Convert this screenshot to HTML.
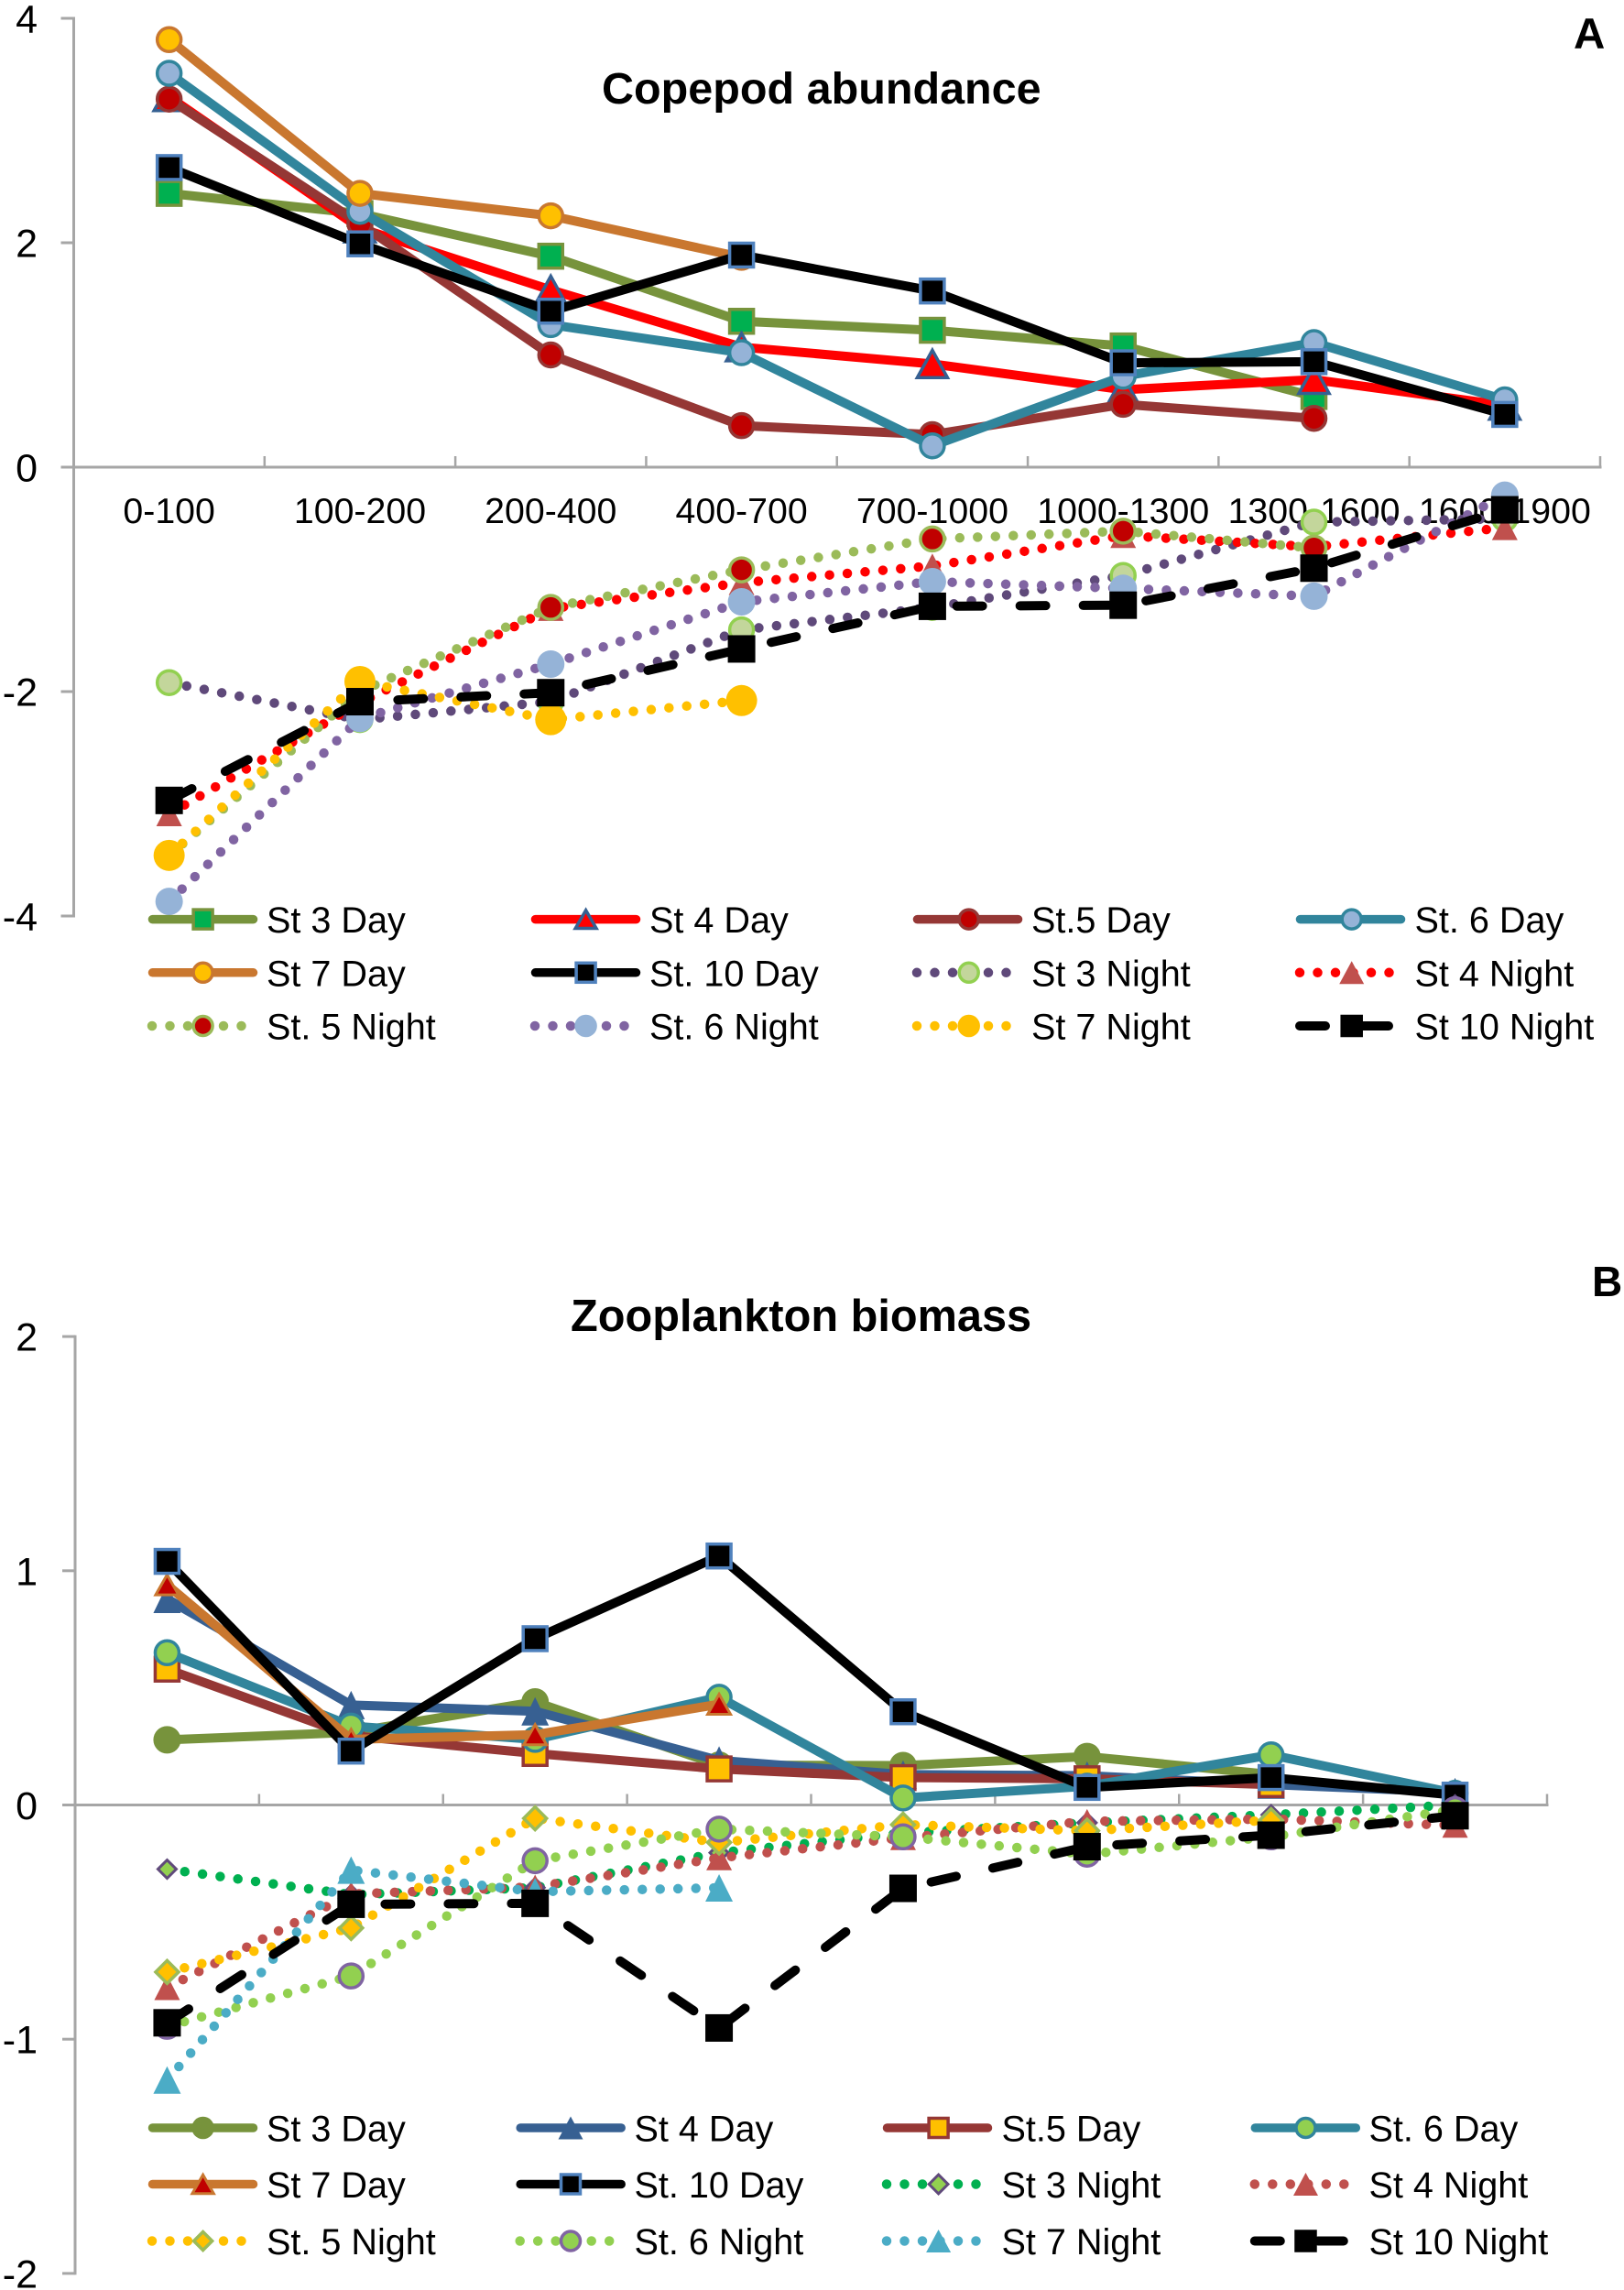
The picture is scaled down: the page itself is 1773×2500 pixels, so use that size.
<!DOCTYPE html>
<html lang="en">
<head>
<meta charset="utf-8">
<title>Copepod abundance and zooplankton biomass</title>
<style>
html,body{margin:0;padding:0;background:#fff;}
svg{display:block;}
text{font-family:"Liberation Sans",Arial,sans-serif;fill:#000;}
</style>
</head>
<body>
<svg id="figure" xmlns="http://www.w3.org/2000/svg" width="1773" height="2500" viewBox="0 0 1773 2500">
  <rect x="0" y="0" width="1773" height="2500" fill="#ffffff"/>
  <g id="panelA"></g>
  <g id="panelB"></g>
  <text x="657" y="113" font-size="48.5" font-weight="700">Copepod abundance</text>
  <text x="1718" y="53" font-size="47.5" font-weight="700">A</text>
  <text x="623" y="1453" font-size="48.7" font-weight="700">Zooplankton biomass</text>
  <text x="1738" y="1415" font-size="46" font-weight="700">B</text>
</svg>
<script>
// ---------- Panel A data ----------
const aCategories = ["0-100","100-200","200-400","400-700","700-1000","1000-1300","1300-1600","1600-1900"];
const aYTicks = [4,2,0,-2,-4];
const aSt3Day   = [2.44,2.26,1.88,1.30,1.22,1.08,0.63,null];
const aSt4Day   = [3.30,2.13,1.58,1.07,0.92,0.69,0.78,0.55];
const aSt5Day   = [3.28,2.17,1.00,0.37,0.29,0.56,0.435,null];
const aSt6Day   = [3.51,2.28,1.27,1.02,0.19,0.81,1.11,0.60];
const aSt7Day   = [3.81,2.44,2.24,1.87,null,null,null,null];
const aSt10Day  = [2.67,1.99,1.39,1.89,1.57,0.93,0.94,0.47];
const aSt3Night = [-1.92,-2.25,-2.09,-1.45,-1.25,-0.965,-0.49,-0.46];
const aSt4Night = [-3.09,-2.10,-1.26,-1.03,-0.88,-0.61,-0.71,-0.54];
const aSt5Night = [-3.46,-2.00,-1.25,-0.915,-0.64,-0.57,-0.72,null];
const aSt6Night = [-3.87,-2.24,-1.755,-1.20,-1.02,-1.08,-1.15,-0.25];
const aSt7Night = [-3.46,-1.91,-2.25,-2.08,null,null,null,null];
const aSt10Night= [-2.97,-2.09,-2.01,-1.62,-1.24,-1.23,-0.90,-0.38];

// ---------- Panel B data ----------
const bCategories = ["0-100","100-200","200-400","400-700","700-1000","1000-1300","1300-1600","1600-1900"];
const bYTicks = [2,1,0,-1,-2];
const bSt3Day   = [0.278,0.31,0.44,0.17,0.168,0.207,0.13,null];
const bSt4Day   = [0.88,0.427,0.40,0.19,0.13,0.125,0.087,0.055];
const bSt5Day   = [0.58,0.296,0.22,0.154,0.117,0.112,0.087,null];
const bSt6Day   = [0.65,0.337,0.28,0.46,0.03,0.08,0.214,0.05];
const bSt7Day   = [0.94,0.28,0.30,0.43,null,null,null,null];
const bSt10Day  = [1.04,0.23,0.71,1.063,0.398,0.075,0.117,0.042];
const bSt3Night = [-0.274,-0.383,-0.353,-0.204,-0.12,-0.076,-0.042,0.0];
const bSt4Night = [-0.78,-0.38,-0.35,-0.226,-0.14,-0.07,-0.06,-0.087];
const bSt5Night = [-0.713,-0.525,-0.057,-0.16,-0.084,-0.11,-0.065,null];
const bSt6Night = [-0.945,-0.73,-0.238,-0.103,-0.136,-0.21,-0.136,-0.02];
const bSt7Night = [-1.174,-0.278,-0.37,-0.354,null,null,null,null];
const bSt10Night= [-0.93,-0.424,-0.42,-0.952,-0.356,-0.178,-0.129,-0.046];

// ---------- Styles ----------
const SOLID = {w:10,lw:9.5,dash:null,cap:"round"};
const DOTS  = {w:10.5,lw:10.5,dash:"0 19.5",cap:"round"};
const DASH  = {w:10,lw:10,dash:"28 41",cap:"round"};

const seriesA = [
 {name:"St 3 Day",values:aSt3Day,line:"#77933C",kind:SOLID,m:{t:"sq",s:26,fill:"#00B050",stroke:"#77933C",sw:3.5}},
 {name:"St 4 Day",values:aSt4Day,line:"#FF0000",kind:SOLID,m:{t:"tri",w:33,h:30,fill:"#FF0000",stroke:"#366092",sw:3.5}},
 {name:"St.5 Day",values:aSt5Day,line:"#953735",kind:SOLID,m:{t:"cir",s:26,fill:"#C00000",stroke:"#953735",sw:3.5}},
 {name:"St. 6 Day",values:aSt6Day,line:"#31859C",kind:SOLID,m:{t:"cir",s:26,fill:"#95B3D7",stroke:"#31859C",sw:3.5}},
 {name:"St 7 Day",values:aSt7Day,line:"#C9772F",kind:SOLID,m:{t:"cir",s:26,fill:"#FFC000",stroke:"#C9772F",sw:3.5}},
 {name:"St. 10 Day",values:aSt10Day,line:"#000000",kind:SOLID,m:{t:"sq",s:26,fill:"#000000",stroke:"#4F81BD",sw:3.5}},
 {name:"St 3 Night",values:aSt3Night,line:"#5F497A",kind:DOTS,m:{t:"cir",s:26,fill:"#C3D69B",stroke:"#92D050",sw:3.5}},
 {name:"St 4 Night",values:aSt4Night,line:"#FF0000",kind:DOTS,m:{t:"tri",w:28,h:27,fill:"#C0504D",stroke:"none",sw:0}},
 {name:"St. 5 Night",values:aSt5Night,line:"#9BBB59",kind:DOTS,m:{t:"cir",s:26,fill:"#C00000",stroke:"#9BBB59",sw:3.5}},
 {name:"St. 6 Night",values:aSt6Night,line:"#8064A2",kind:DOTS,m:{t:"cir",s:30,fill:"#95B3D7",stroke:"none",sw:0}},
 {name:"St 7 Night",values:aSt7Night,line:"#FFC000",kind:DOTS,m:{t:"cir",s:34,fill:"#FFC000",stroke:"none",sw:0}},
 {name:"St 10 Night",values:aSt10Night,line:"#000000",kind:DASH,m:{t:"sq",s:30,fill:"#000000",stroke:"none",sw:0}}
];
const seriesB = [
 {name:"St 3 Day",values:bSt3Day,line:"#77933C",kind:SOLID,m:{t:"cir",s:30,fill:"#77933C",stroke:"none",sw:0}},
 {name:"St 4 Day",values:bSt4Day,line:"#376092",kind:SOLID,m:{t:"tri",w:30,h:31,fill:"#376092",stroke:"none",sw:0}},
 {name:"St.5 Day",values:bSt5Day,line:"#953735",kind:SOLID,m:{t:"sq",s:26,fill:"#FFC000",stroke:"#953735",sw:3.5}},
 {name:"St. 6 Day",values:bSt6Day,line:"#31859C",kind:SOLID,m:{t:"cir",s:26,fill:"#92D050",stroke:"#31859C",sw:3.5}},
 {name:"St 7 Day",values:bSt7Day,line:"#C9772F",kind:SOLID,m:{t:"tri",w:25,h:22,fill:"#C00000",stroke:"#C9772F",sw:3}},
 {name:"St. 10 Day",values:bSt10Day,line:"#000000",kind:SOLID,m:{t:"sq",s:26,fill:"#000000",stroke:"#4F81BD",sw:3.5}},
 {name:"St 3 Night",values:bSt3Night,line:"#00B050",kind:DOTS,m:{t:"dia",s:20,fill:"#92D050",stroke:"#604A7B",sw:3}},
 {name:"St 4 Night",values:bSt4Night,line:"#C0504D",kind:DOTS,m:{t:"tri",w:28,h:27,fill:"#C0504D",stroke:"none",sw:0}},
 {name:"St. 5 Night",values:bSt5Night,line:"#FFC000",kind:DOTS,m:{t:"dia",s:25,fill:"#FFC000",stroke:"#9BBB59",sw:3.5}},
 {name:"St. 6 Night",values:bSt6Night,line:"#92D050",kind:DOTS,m:{t:"cir",s:26,fill:"#92D050",stroke:"#8064A2",sw:3.5}},
 {name:"St 7 Night",values:bSt7Night,line:"#4BACC6",kind:DOTS,m:{t:"tri",w:30,h:30,fill:"#4BACC6",stroke:"none",sw:0}},
 {name:"St 10 Night",values:bSt10Night,line:"#000000",kind:DASH,m:{t:"sq",s:30,fill:"#000000",stroke:"none",sw:0}}
];

const layoutA = {root:"panelA",prefix:"a",xLeft:80.5,xRight:1747,yZero:510,yUnit:122.5,tickLabelRight:41,showCats:true,catBaseline:571,
  legendCols:[{line:162,marker:221.6,text:291},{line:580,marker:639.6,text:709},{line:997,marker:1057.7,text:1126},{line:1415,marker:1475.7,text:1544.5}],
  legendRows:[1003.6,1061.8,1120]};
const layoutB = {root:"panelB",prefix:"b",xLeft:82,xRight:1689,yZero:1970.5,yUnit:255.7,tickLabelRight:41,showCats:false,catBaseline:0,
  legendCols:[{line:162,marker:221.6,text:291},{line:563.7,marker:623,text:692.5},{line:964,marker:1024.6,text:1093.5},{line:1365.8,marker:1425.5,text:1494.5}],
  legendRows:[2323,2384.5,2446.5]};

const NS = "http://www.w3.org/2000/svg";
function mk(tag, attrs){
  const el = document.createElementNS(NS, tag);
  for (const k in attrs){ el.setAttribute(k, attrs[k]); }
  return el;
}

function legendVersion(m){
  const sw = m.sw;
  if (m.t === "tri"){
    return {t:"tri",w:27-1.2*sw,h:25-1.5*sw,fill:m.fill,stroke:m.stroke,sw:sw};
  }
  if (m.t === "dia"){
    return {t:"dia",s:25-1.41*sw,fill:m.fill,stroke:m.stroke,sw:sw};
  }
  return {t:m.t,s:24.5-sw,fill:m.fill,stroke:m.stroke,sw:sw};
}

function drawMarker(parent, m, cx, cy, label){
  let el;
  const stroke = m.stroke;
  const sw = m.sw;
  if (m.t === "cir"){
    el = mk("circle",{cx:cx,cy:cy,r:m.s/2,fill:m.fill,stroke:stroke,"stroke-width":sw});
  } else if (m.t === "sq"){
    el = mk("rect",{x:cx-m.s/2,y:cy-m.s/2,width:m.s,height:m.s,fill:m.fill,stroke:stroke,"stroke-width":sw});
  } else if (m.t === "tri"){
    el = mk("polygon",{points:(cx)+","+(cy-m.h/2)+" "+(cx+m.w/2)+","+(cy+m.h/2)+" "+(cx-m.w/2)+","+(cy+m.h/2),fill:m.fill,stroke:stroke,"stroke-width":sw});
  } else {
    const d = m.s/2;
    el = mk("polygon",{points:cx+","+(cy-d)+" "+(cx+d)+","+cy+" "+cx+","+(cy+d)+" "+(cx-d)+","+cy,fill:m.fill,stroke:stroke,"stroke-width":sw});
  }
  
  
  parent.appendChild(el);
}

function drawPanel(layout, categories, yTicks, series){
  const root = document.getElementById(layout.root);
  const band = (layout.xRight - layout.xLeft) / categories.length;
  const xScale = function(i){ return layout.xLeft + band*(i+0.5); };
  const yScale = function(v){ return layout.yZero - layout.yUnit*v; };
  const AXIS = "#A6A6A6";

  const axisGroup = mk("g",{});
  
  
  root.appendChild(axisGroup);

  const yAxis = mk("line",{x1:layout.xLeft,x2:layout.xLeft,y1:yScale(yTicks[0])-1.5,y2:yScale(yTicks[yTicks.length-1])+1.5,stroke:AXIS,"stroke-width":3});
  
  
  axisGroup.appendChild(yAxis);

  const xAxis = mk("line",{x1:layout.xLeft,x2:layout.xRight+1.5,y1:layout.yZero,y2:layout.yZero,stroke:AXIS,"stroke-width":3});
  
  
  axisGroup.appendChild(xAxis);

  yTicks.forEach(function(v){
    const y = yScale(v);
    const tick = mk("line",{x1:layout.xLeft-14,x2:layout.xLeft,y1:y,y2:y,stroke:AXIS,"stroke-width":3});
    
    
    axisGroup.appendChild(tick);
    const lab = mk("text",{x:layout.tickLabelRight,y:y+15.5,"text-anchor":"end","font-size":43});
    lab.textContent = String(v);
    
    
    axisGroup.appendChild(lab);
  });

  for (let i = 1; i <= categories.length; i++){
    const tx = layout.xLeft + band*i;
    const tick = mk("line",{x1:tx,x2:tx,y1:layout.yZero-12,y2:layout.yZero,stroke:AXIS,"stroke-width":2.5});
    
    
    axisGroup.appendChild(tick);
  }

  if (layout.showCats){
    categories.forEach(function(c,i){
      const lab = mk("text",{x:xScale(i),y:layout.catBaseline,"text-anchor":"middle","font-size":39.3});
      lab.textContent = c;
      
      
      axisGroup.appendChild(lab);
    });
  }

  series.forEach(function(s){
    const slug = s.name.toLowerCase().replace(/[^a-z0-9]+/g,'-');
    const g = mk("g",{});
    
    
    root.appendChild(g);
    const pts = [];
    s.values.forEach(function(v,i){ if (v !== null){ pts.push(xScale(i)+","+yScale(v)); } });
    const attrs = {points:pts.join(" "),fill:"none",stroke:s.line,"stroke-width":s.kind.w,"stroke-linecap":s.kind.cap,"stroke-linejoin":"round"};
    if (s.kind.dash){ attrs["stroke-dasharray"] = s.kind.dash; }
    const pl = mk("polyline",attrs);
    
    
    g.appendChild(pl);
    s.values.forEach(function(v,i){
      if (v !== null){ drawMarker(g, s.m, xScale(i), yScale(v), layout.prefix + '-point-' + slug); }
    });
  });

  const legend = mk("g",{});
  
  
  root.appendChild(legend);
  series.forEach(function(s,idx){
    const slug = s.name.toLowerCase().replace(/[^a-z0-9]+/g,'-');
    const col = layout.legendCols[idx % 4];
    const rowY = layout.legendRows[Math.floor(idx/4)];
    const entry = mk("g",{});
    
    
    legend.appendChild(entry);
    const inset = s.kind === SOLID ? 4.5 : 4;
    const attrs = {x1:col.line+inset,x2:col.line+(s.kind === SOLID ? 114.5 : 108),y1:rowY,y2:rowY,stroke:s.line,"stroke-width":s.kind.lw,"stroke-linecap":s.kind.cap};
    if (s.kind.dash){ attrs["stroke-dasharray"] = s.kind.dash; }
    const ln = mk("line",attrs);
    
    
    entry.appendChild(ln);
    drawMarker(entry, legendVersion(s.m), col.marker, rowY, 'legend-marker-' + slug);
    const t = mk("text",{x:col.text,y:rowY+14.5,"font-size":39.6});
    t.textContent = s.name;
    
    
    entry.appendChild(t);
  });
}

drawPanel(layoutA, aCategories, aYTicks, seriesA);
drawPanel(layoutB, bCategories, bYTicks, seriesB);
</script>
</body>
</html>
